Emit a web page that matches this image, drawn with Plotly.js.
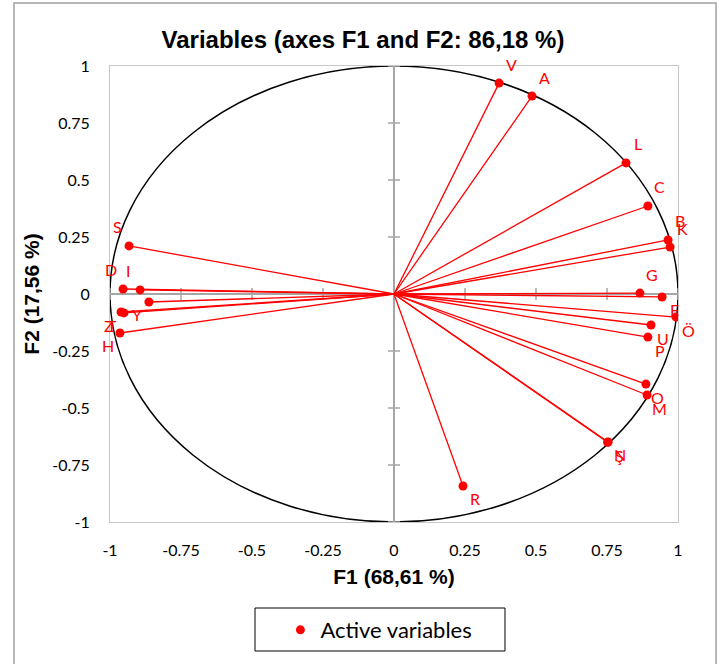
<!DOCTYPE html>
<html>
<head>
<meta charset="utf-8">
<script src="https://cdn.plot.ly/plotly-3.0.1.min.js"></script>
<style>html,body{margin:0;padding:0;background:#fff;}#chart{width:726px;height:664px;}</style>
</head>
<body>
<div id="chart"></div>
<script>
// Variable names
var labels = ["V","A","L","C","B","K","G","E","Ö","U","P","O","M","N","Ş","R","S","D","I","Y","Z","T","H"];
// F1 coordinates
var f1 = [0.370,0.486,0.817,0.894,0.965,0.972,0.866,0.944,0.993,0.905,0.894,0.887,0.891,0.754,0.752,0.243,-0.933,-0.954,-0.894,-0.863,-0.961,-0.951,-0.965];
// F2 coordinates
var f2 = [0.925,0.868,0.575,0.386,0.237,0.206,0.004,-0.013,-0.101,-0.136,-0.189,-0.395,-0.443,-0.649,-0.650,-0.842,0.211,0.022,0.018,-0.035,-0.079,-0.083,-0.171];
// Axis ticks
var tickVals = [-1,-0.75,-0.5,-0.25,0,0.25,0.5,0.75,1];
var tickText = ["-1","-0.75","-0.5","-0.25","0","0.25","0.5","0.75","1"];

var RED = "#ff0000";
var lx = [], ly = [];
for (var i = 0; i < f1.length; i++) { lx.push(0, f1[i], null); ly.push(0, f2[i], null); }

var traces = [
  {x: lx, y: ly, mode: "lines", type: "scatter", line: {color: RED, width: 1.3}, showlegend: false, hoverinfo: "skip"},
  {x: f1, y: f2, text: labels, mode: "markers", type: "scatter", name: "Active variables",
   marker: {color: RED, size: 9}, showlegend: true}
];

var annotations = labels.map(function (t, i) {
  return {x: f1[i], y: f2[i], xref: "x", yref: "y", text: t, showarrow: false,
    xshift: f1[i] >= 0 ? 12 : -12, yshift: f2[i] >= 0 ? 19 : -13,
    font: {family: "Lato, sans-serif", size: 16, color: RED}};
});

var shapes = [
  {type: "circle", xref: "x", yref: "y", x0: -1, y0: -1, x1: 1, y1: 1, line: {color: "#000", width: 1.5}, layer: "below"},
  {type: "rect", xref: "paper", yref: "paper", x0: -0.169, x1: 1.067, y0: -0.40, y1: 1.138, line: {color: "#a0a0a0", width: 1.5}},
  {type: "rect", xref: "paper", yref: "paper", x0: 0.2553, x1: 0.6954, y0: -0.2829, y1: -0.1886, line: {color: "#000", width: 1}}
];
tickVals.forEach(function (v) {
  if (v === 0) return;
  shapes.push({type: "line", xref: "x", yref: "y", xsizemode: "pixel", xanchor: 0, x0: -6, x1: 6, y0: v, y1: v, line: {color: "#a6a6a6", width: 1.5}, layer: "below"});
  shapes.push({type: "line", xref: "x", yref: "y", ysizemode: "pixel", yanchor: 0, y0: -6, y1: 6, x0: v, x1: v, line: {color: "#a6a6a6", width: 1.5}, layer: "below"});
});

var axisCommon = {
  range: [-1, 1], tickvals: tickVals, ticktext: tickText, ticks: "", showgrid: false,
  zeroline: true, zerolinecolor: "#a6a6a6", zerolinewidth: 2,
  showline: true, mirror: true, linecolor: "#c8c8c8", linewidth: 1,
  tickfont: {family: "Lato, sans-serif", size: 16, color: "#000"}, automargin: false, fixedrange: true
};

var layout = {
  width: 726, height: 664,
  margin: {l: 110, r: 48, t: 66, b: 142},
  paper_bgcolor: "#fff", plot_bgcolor: "#fff",
  title: {text: "Variables (axes F1 and F2: 86,18 %)", x: 0.5, xref: "container", y: 0.94, yref: "container", yanchor: "middle",
          font: {family: "Liberation Sans, Arial, sans-serif", size: 24, color: "#000", weight: "bold"}},
  xaxis: Object.assign({}, axisCommon, {ticklabelstandoff: 14,
    title: {text: "F1 (68,61 %)", standoff: 11, font: {family: "Liberation Sans, Arial, sans-serif", size: 21, color: "#000", weight: "bold"}}}),
  yaxis: Object.assign({}, axisCommon, {ticklabelstandoff: 16,
    title: {text: "F2 (17,56 %)", standoff: 6, font: {family: "Liberation Sans, Arial, sans-serif", size: 21, color: "#000", weight: "bold"}}}),
  showlegend: true,
  legend: {x: 0.300, xanchor: "left", y: -0.237, yanchor: "middle", yref: "paper", bgcolor: "rgba(0,0,0,0)", borderwidth: 0,
           font: {family: "Lato, sans-serif", size: 22, color: "#000"}},
  annotations: annotations,
  shapes: shapes
};

Plotly.newPlot("chart", traces, layout, {displayModeBar: false, staticPlot: true});
</script>
</body>
</html>
